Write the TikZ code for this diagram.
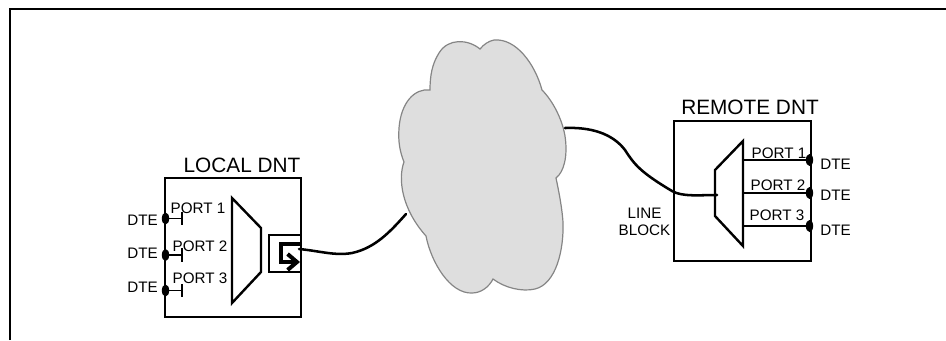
\documentclass[tikz,border=0pt]{standalone}
\usepackage{fontspec}
\setmainfont{Liberation Sans}
\definecolor{cloudfill}{HTML}{DEDEDE}
\definecolor{cloudline}{HTML}{858585}
\usetikzlibrary{shapes.geometric,arrows.meta}
\tikzset{
  px/.style={x=0.75pt,y=-0.75pt},
  box/.style={draw=black,line width=2pt,minimum width=#1*0.75pt,inner sep=0pt,outer sep=0pt},
  mux/.style={draw=black,line width=1.8pt,line join=miter},
  wire/.style={draw=black,line width=1.9pt,line cap=round},
  portline/.style={draw=black,line width=1.1pt},
  title/.style={font=\fontsize{15.6}{18}\selectfont,inner sep=0pt},
  lbl/.style={font=\fontsize{11.4}{12.75}\selectfont,inner sep=0pt,align=center},
  dot/.style={ellipse,fill=black,minimum width=5.5pt,minimum height=9pt,inner sep=0pt},
}
\begin{document}
\begin{tikzpicture}[px]
\useasboundingbox (0,0) rectangle (946,340);
\draw[line width=1.5pt] (9.5,340) -- (9.5,9) -- (946,9);
% cloud
\path[fill=cloudfill,draw=cloudline,line width=0.9pt]
  (480,49) .. controls (468,39) and (448,38) .. (439,53)
  .. controls (432,64) and (430,76) .. (430,90)
  .. controls (415,88) and (401,102) .. (399,128)
  .. controls (398,142) and (400,152) .. (404,162)
  .. controls (398,178) and (401,208) .. (426,236)
  .. controls (431,262) and (450,294) .. (472,293)
  .. controls (481,293) and (489,287) .. (493,279)
  .. controls (505,288) and (522,292) .. (535,289)
  .. controls (556,284) and (564,250) .. (563,222)
  .. controls (562,208) and (559,192) .. (556,178)
  .. controls (564,172) and (568,156) .. (565,136)
  .. controls (562,118) and (552,100) .. (542,90)
  .. controls (535,64) and (516,38) .. (494,40)
  .. controls (489,41) and (484,44) .. (480,49) -- cycle;
\coordinate (cloudL) at (406,214);
\coordinate (cloudR) at (565,128);
% local
\node[box=136,minimum height=104.25pt] (local) at (233,247.5) {};
\node[title,anchor=base] (localt) at (242,172) {LOCAL DNT};
\draw[mux] (232,198) -- (261,228) -- (261,272) -- (232,303) -- cycle;
\node[draw=black,line width=1.5pt,minimum width=24pt,minimum height=27.75pt,inner sep=0pt,outer sep=0pt] (lsq) at (285,253.5) {};
\coordinate (lin) at (301,244);
\coordinate (lcorner) at (281,244);
\coordinate (lcorner2) at (281,262);
\coordinate (larrow) at (300,262);
\draw[line width=3pt,-{Straight Barb[length=7pt,width=12pt]}] (lin) -- (lcorner) -- (lcorner2) -- (larrow);
\foreach \n/\y/\ly/\lx/\ty in {1/218.5/213/198/225,2/255/251/200/258,3/290.5/283/200/292}{
  \node[dot] (ld\n) at (165.5,\y) {};
  \coordinate (le\n) at (182,\y);
  \draw[portline] (ld\n) -- (le\n);
  \draw[line width=1.3pt] ([yshift=5pt]le\n) -- ([yshift=-5pt]le\n);
  \node[lbl,anchor=base] (lp\n) at (\lx,\ly) {PORT \n};
  \node[lbl,anchor=base east] (lt\n) at (158,\ty) {DTE};
}
% remote
\node[box=137,minimum height=105pt] (remote) at (742.5,191) {};
\node[title,anchor=base] (remotet) at (750,114) {REMOTE DNT};
\draw[mux] (743,141) -- (715,170) -- (715,216) -- (743,246) -- cycle;
\foreach \n/\y/\lx/\ly/\ty in {1/160/779/158/169,2/193/778/190/200,3/226/777/220/235}{
  \coordinate (rs\n) at (743,\y);
  \node[dot] (rd\n) at (809.5,\y) {};
  \draw[portline] (rs\n) -- (rd\n);
  \node[lbl,anchor=base] (rp\n) at (\lx,\ly) {PORT \n};
  \node[lbl,anchor=base west] (rt\n) at (820,\ty) {DTE};
}
\node[lbl,anchor=center] (lineblock) at (644.5,222) {LINE\\BLOCK};
% connectors
\coordinate (muxin) at (717,195);
\draw[wire] (299,249) .. controls (320,251) and (335,256) .. (352,253)
  .. controls (375,248) and (390,232) .. (cloudL);
\draw[wire] (cloudR) .. controls (590,127) and (612,133) .. (625,150)
  .. controls (634,164) and (640,172) .. (672,191)
  .. controls (682,197) and (700,195) .. (muxin);
\end{tikzpicture}
\end{document}
